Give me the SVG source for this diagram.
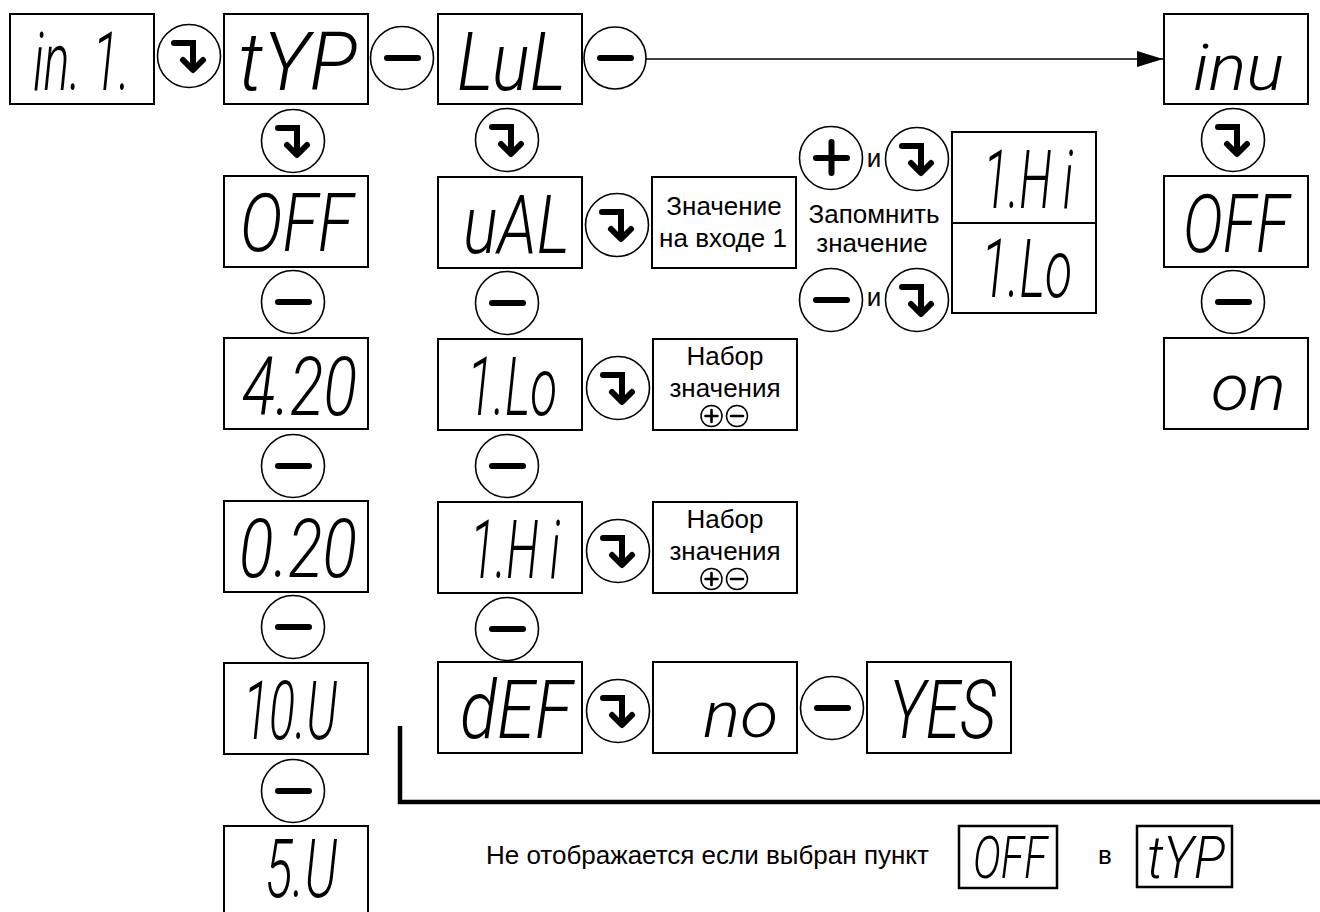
<svg xmlns="http://www.w3.org/2000/svg" width="1320" height="912" viewBox="0 0 1320 912">
<style>
.box{fill:#fff;stroke:#000;stroke-width:2}
.sbox{fill:#fff;stroke:#000;stroke-width:2.5}
.btn{fill:#fff;stroke:#000;stroke-width:1.6}
.sbtn{fill:#fff;stroke:#000;stroke-width:1.5}
.seg{font-family:Roboto,"DejaVu Sans",sans-serif;font-style:italic;font-weight:300;font-size:82px;fill:#000}
.lc{font-size:64px}
.segs{font-size:60px}
.lbl{font-family:"Liberation Sans",Arial,sans-serif;font-size:26px;fill:#000}
.mid{text-anchor:middle}
.gl{fill:none;stroke:#000;stroke-width:6;stroke-linecap:round}
.gls{fill:none;stroke:#000;stroke-width:2.6;stroke-linecap:round}
.conn{fill:none;stroke:#000}
</style>
<defs>
<g id="g-enter"><path class="gl" stroke-linejoin="miter" d="M-15,-13 H4 V12"/><path class="gl" stroke-linejoin="round" d="M-6,4 L4,14 L14,4"/></g>
<g id="g-minus"><path class="gl" d="M-15,0 H16"/></g>
<g id="g-plus"><path class="gl" d="M-15,0 H16 M0.5,-16 V15"/></g>
<g id="g-pm"><circle class="sbtn" cx="0" cy="0" r="10.5"/><path class="gls" d="M-6,0 H6 M0,-6 V6"/><circle class="sbtn" cx="25.5" cy="0" r="10.5"/><path class="gls" d="M19.5,0 H31.5"/></g>
<marker id="arr" markerUnits="userSpaceOnUse" markerWidth="27" markerHeight="17" refX="26" refY="8" orient="auto"><path d="M0,0 L26,8 L0,16 z" fill="#000"/></marker>
</defs>

<g id="connectors">
<path class="conn" stroke-width="1.6" d="M646,59 H1163" marker-end="url(#arr)"/>
<path class="conn" stroke-width="4.5" d="M400,726 V802 H1320"/>
</g>

<g id="buttons">
<g id="b-1"><circle class="btn" cx="189" cy="56" r="31.5"/><use href="#g-enter" x="189" y="56"/></g>
<g id="b-2"><circle class="btn" cx="402" cy="58" r="31.5"/><use href="#g-minus" x="402" y="58"/></g>
<g id="b-3"><circle class="btn" cx="615" cy="58" r="31"/><use href="#g-minus" x="615" y="58"/></g>
<g id="b-c1-1"><circle class="btn" cx="293" cy="141" r="31.5"/><use href="#g-enter" x="293" y="141"/></g>
<g id="b-c1-2"><circle class="btn" cx="293" cy="302" r="31.5"/><use href="#g-minus" x="293" y="302"/></g>
<g id="b-c1-3"><circle class="btn" cx="293" cy="466" r="31.5"/><use href="#g-minus" x="293" y="466"/></g>
<g id="b-c1-4"><circle class="btn" cx="293" cy="627" r="31.5"/><use href="#g-minus" x="293" y="627"/></g>
<g id="b-c1-5"><circle class="btn" cx="293" cy="791" r="31.5"/><use href="#g-minus" x="293" y="791"/></g>
<g id="b-c2-1"><circle class="btn" cx="507" cy="140" r="31.5"/><use href="#g-enter" x="507" y="140"/></g>
<g id="b-c2-2"><circle class="btn" cx="507" cy="303" r="31.5"/><use href="#g-minus" x="507" y="303"/></g>
<g id="b-c2-3"><circle class="btn" cx="507" cy="466" r="31.5"/><use href="#g-minus" x="507" y="466"/></g>
<g id="b-c2-4"><circle class="btn" cx="507" cy="629" r="31.5"/><use href="#g-minus" x="507" y="629"/></g>
<g id="b-r-1"><circle class="btn" cx="617" cy="225" r="31.5"/><use href="#g-enter" x="617" y="225"/></g>
<g id="b-r-2"><circle class="btn" cx="618" cy="388" r="31.5"/><use href="#g-enter" x="618" y="388"/></g>
<g id="b-r-3"><circle class="btn" cx="618" cy="551" r="31.5"/><use href="#g-enter" x="618" y="551"/></g>
<g id="b-r-4"><circle class="btn" cx="618" cy="711" r="31.5"/><use href="#g-enter" x="618" y="711"/></g>
<g id="b-r-5"><circle class="btn" cx="832" cy="708" r="31.5"/><use href="#g-minus" x="832" y="708"/></g>
<g id="b-s-1"><circle class="btn" cx="831" cy="158" r="31.5"/><use href="#g-plus" x="831" y="158"/></g>
<g id="b-s-2"><circle class="btn" cx="917" cy="159" r="31.5"/><use href="#g-enter" x="917" y="159"/></g>
<g id="b-s-3"><circle class="btn" cx="831" cy="300" r="31.5"/><use href="#g-minus" x="831" y="300"/></g>
<g id="b-s-4"><circle class="btn" cx="917" cy="300" r="31.5"/><use href="#g-enter" x="917" y="300"/></g>
<g id="b-i-1"><circle class="btn" cx="1233" cy="140" r="31.5"/><use href="#g-enter" x="1233" y="140"/></g>
<g id="b-i-2"><circle class="btn" cx="1233" cy="302" r="31.5"/><use href="#g-minus" x="1233" y="302"/></g>
</g>

<g id="n-in1"><rect class="box" x="10" y="14" width="144" height="90"/><text class="seg" x="33" y="90" textLength="97" lengthAdjust="spacingAndGlyphs">in. 1.</text></g>
<g id="n-typ"><rect class="box" x="224" y="14" width="144" height="90"/><text class="seg" x="238" y="90" textLength="119" lengthAdjust="spacingAndGlyphs">tYP</text></g>
<g id="n-lul"><rect class="box" x="438" y="14" width="144" height="90"/><text class="seg" x="457" y="90" textLength="109" lengthAdjust="spacingAndGlyphs">LuL</text></g>
<g id="n-inu"><rect class="box" x="1164" y="14" width="144" height="90"/><text class="seg lc" x="1193" y="90" textLength="91" lengthAdjust="spacingAndGlyphs">inu</text></g>

<g id="n-off"><rect class="box" x="224" y="176" width="144" height="91"/><text class="seg" x="240" y="251" textLength="113" lengthAdjust="spacingAndGlyphs">OFF</text></g>
<g id="n-420"><rect class="box" x="224" y="338" width="144" height="91"/><text class="seg" x="242" y="415" textLength="115" lengthAdjust="spacingAndGlyphs">4.20</text></g>
<g id="n-020"><rect class="box" x="224" y="501" width="144" height="91"/><text class="seg" x="239" y="577" textLength="118" lengthAdjust="spacingAndGlyphs">0.20</text></g>
<g id="n-10u"><rect class="box" x="224" y="663" width="144" height="91"/><text class="seg" x="243" y="739" textLength="94" lengthAdjust="spacingAndGlyphs">10.U</text></g>
<g id="n-5u"><rect class="box" x="224" y="826" width="144" height="91"/><text class="seg" x="265" y="897" textLength="72" lengthAdjust="spacingAndGlyphs">5.U</text></g>

<g id="n-ual"><rect class="box" x="438" y="177" width="144" height="91"/><text class="seg" x="463" y="253" textLength="107" lengthAdjust="spacingAndGlyphs">uAL</text></g>
<g id="n-ilo"><rect class="box" x="438" y="339" width="144" height="91"/><text class="seg" x="467" y="415" textLength="90" lengthAdjust="spacingAndGlyphs">1.Lo</text></g>
<g id="n-ihi"><rect class="box" x="438" y="502" width="144" height="91"/><text class="seg" x="470" y="578" textLength="90" lengthAdjust="spacingAndGlyphs">1.H i</text></g>
<g id="n-def"><rect class="box" x="438" y="662" width="144" height="91"/><text class="seg" x="460" y="738" textLength="112" lengthAdjust="spacingAndGlyphs">dEF</text></g>

<g id="n-val"><rect class="box" x="652" y="177" width="144" height="91"/><text class="lbl mid" x="724" y="215">Значение</text><text class="lbl mid" x="723" y="247">на входе 1</text></g>
<g id="n-set1"><rect class="box" x="653" y="339" width="144" height="91"/><text class="lbl mid" x="725" y="365">Набор</text><text class="lbl mid" x="725" y="397">значения</text><use href="#g-pm" x="711.5" y="416"/></g>
<g id="n-set2"><rect class="box" x="653" y="502" width="144" height="91"/><text class="lbl mid" x="725" y="528">Набор</text><text class="lbl mid" x="725" y="560">значения</text><use href="#g-pm" x="711.5" y="579"/></g>
<g id="n-no"><rect class="box" x="653" y="662" width="144" height="91"/><text class="seg lc" x="703" y="737" textLength="75" lengthAdjust="spacingAndGlyphs">no</text></g>
<g id="n-yes"><rect class="box" x="867" y="662" width="144" height="91"/><text class="seg" x="889" y="738" textLength="107" lengthAdjust="spacingAndGlyphs">YES</text></g>

<g id="n-save"><text class="lbl mid" x="874" y="167">и</text><text class="lbl mid" x="874" y="306">и</text><text class="lbl mid" x="874" y="223">Запомнить</text><text class="lbl mid" x="872" y="252">значение</text></g>
<g id="n-hilo"><rect class="box" x="952" y="132" width="144" height="91"/><text class="seg" x="983" y="208" textLength="90" lengthAdjust="spacingAndGlyphs">1.H i</text><rect class="box" x="952" y="223" width="144" height="90"/><text class="seg" x="981" y="297" textLength="91" lengthAdjust="spacingAndGlyphs">1.Lo</text></g>

<g id="n-off2"><rect class="box" x="1164" y="176" width="144" height="91"/><text class="seg" x="1289" y="252" text-anchor="end" textLength="106" lengthAdjust="spacingAndGlyphs">OFF</text></g>
<g id="n-on"><rect class="box" x="1164" y="338" width="144" height="91"/><text class="seg lc" x="1211" y="410" textLength="75" lengthAdjust="spacingAndGlyphs">on</text></g>

<g id="n-note"><text class="lbl" x="486" y="864">Не отображается если выбран пункт</text><rect class="sbox" x="959" y="826" width="98" height="62"/><text class="seg segs" x="973" y="878" textLength="74" lengthAdjust="spacingAndGlyphs">OFF</text><text class="lbl" x="1098" y="864">в</text><rect class="sbox" x="1137" y="826" width="95" height="61"/><text class="seg segs" x="1147" y="878" textLength="78" lengthAdjust="spacingAndGlyphs">tYP</text></g>
</svg>
